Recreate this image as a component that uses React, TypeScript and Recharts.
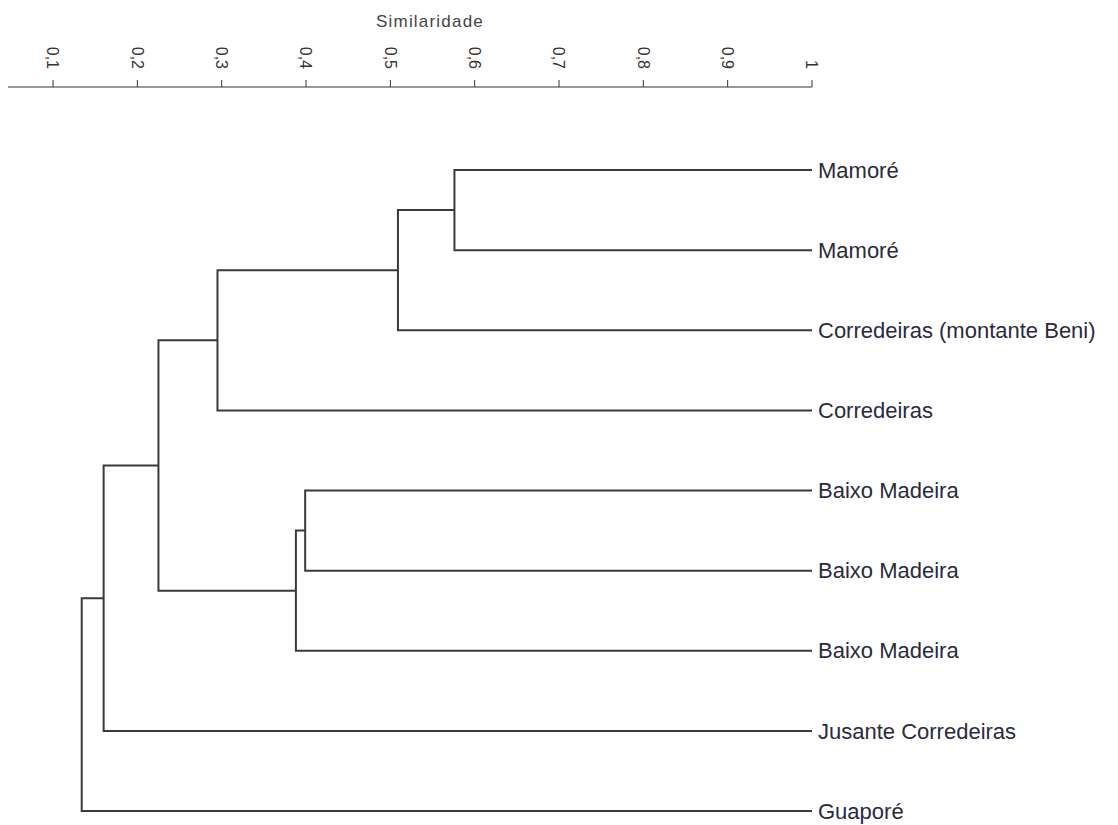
import React from 'react';
import { ComposedChart, Line, XAxis, YAxis } from 'recharts';

// leaves, top to bottom
const leafNames = [
  'Mamoré',
  'Mamoré',
  'Corredeiras (montante Beni)',
  'Corredeiras',
  'Baixo Madeira',
  'Baixo Madeira',
  'Baixo Madeira',
  'Jusante Corredeiras',
  'Guaporé',
];

// merges (ids < 9 are leaves, then node 9, 10, ... in order)
const mergeLeft = [0, 9, 10, 4, 12, 11, 14, 15];
const mergeRight = [1, 2, 3, 5, 6, 13, 7, 8];
const mergeSimilarity = [0.576, 0.509, 0.295, 0.399, 0.388, 0.225, 0.16, 0.134];

const axisTicks = [0.1, 0.2, 0.3, 0.4, 0.5, 0.6, 0.7, 0.8, 0.9, 1];
const leafTicks = [0, 1, 2, 3, 4, 5, 6, 7, 8];

type Pt = { x: number; y: number };

const buildSegments = (): Pt[][] => {
  const pos: Pt[] = leafNames.map((_, i) => ({ x: 1, y: i }));
  const segs: Pt[][] = [];
  mergeLeft.forEach((l, i) => {
    const a = pos[l];
    const b = pos[mergeRight[i]];
    const s = mergeSimilarity[i];
    segs.push([
      { x: a.x, y: a.y },
      { x: s, y: a.y },
      { x: s, y: b.y },
      { x: b.x, y: b.y },
    ]);
    pos.push({ x: s, y: (a.y + b.y) / 2 });
  });
  return segs;
};

const segments = buildSegments();

const font = "'Liberation Sans', Arial, sans-serif";

const TopTick = (props: any) => {
  const { x, y, payload } = props;
  const label = String(payload.value).replace('.', ',');
  return (
    <text
      x={x}
      y={y}
      dy="0.35em"
      transform={`rotate(90 ${x} ${y})`}
      textAnchor="end"
      fontSize={16}
      fill="#333"
      fontFamily={font}
    >
      {label}
    </text>
  );
};

const LeafTick = (props: any) => {
  const { x, y, payload } = props;
  return (
    <text
      x={x}
      y={y}
      dy="0.35em"
      textAnchor="start"
      fontSize={22}
      fill="#2a2a40"
      fontFamily={font}
    >
      {leafNames[payload.value]}
    </text>
  );
};

const Title = (props: any) => {
  const vb = props.viewBox || { x: 8, y: 0 };
  return (
    <text
      x={vb.x + 422}
      y={vb.y + 27}
      textAnchor="middle"
      fontSize={17}
      letterSpacing={1.2}
      fill="#444"
      fontFamily={font}
    >
      Similaridade
    </text>
  );
};

const App: React.FC = () => {
  return (
    <div style={{ position: 'absolute', left: 0, top: 0, background: '#fff' }}>
      <ComposedChart width={1118} height={825} margin={{ top: 0, right: 0, bottom: 0, left: 8 }}>
        <XAxis
          type="number"
          dataKey="x"
          orientation="top"
          domain={[0.0466, 1]}
          allowDataOverflow
          ticks={axisTicks}
          height={87}
          tickSize={7}
          tickMargin={11}
          stroke="#333"
          tick={<TopTick />}
          label={{ content: <Title /> }}
        />
        <YAxis
          type="number"
          dataKey="y"
          orientation="right"
          reversed
          domain={[-1.0359, 8.1747]}
          allowDataOverflow
          ticks={leafTicks}
          width={306}
          axisLine={false}
          tickLine={false}
          tickSize={3}
          tickMargin={3}
          tick={<LeafTick />}
        />
        {segments.map((seg, i) => (
          <Line
            key={i}
            data={seg}
            dataKey="y"
            type="linear"
            stroke="#3a3a3a"
            strokeWidth={2}
            dot={false}
            activeDot={false}
            isAnimationActive={false}
          />
        ))}
      </ComposedChart>
    </div>
  );
};

export default App;
